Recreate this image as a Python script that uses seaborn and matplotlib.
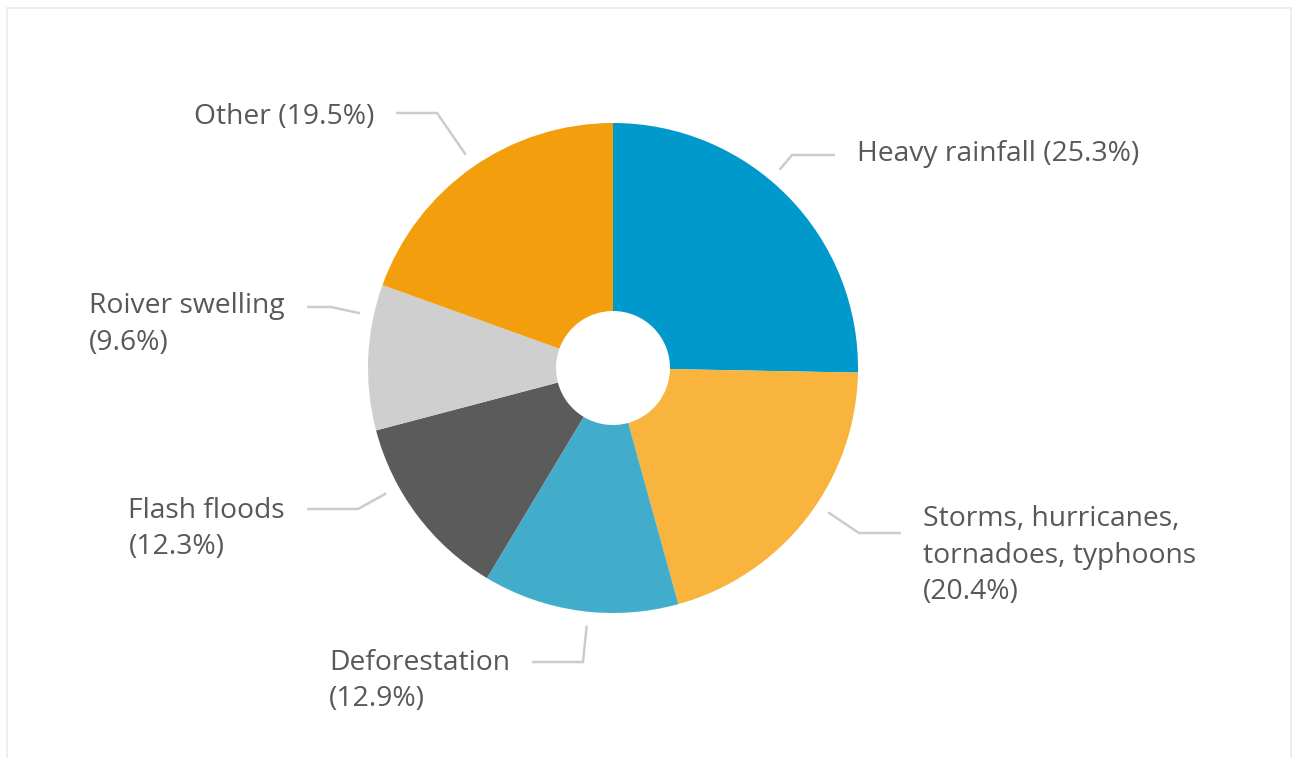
import numpy as np
import matplotlib
matplotlib.use("Agg")
import matplotlib.pyplot as plt
import seaborn as sns

# Causes of flooding, share of events (%)
labels = [
    "Heavy rainfall",
    "Storms, hurricanes,\ntornadoes, typhoons",
    "Deforestation",
    "Flash floods",
    "Roiver swelling",
    "Other",
]
shares = [25.3, 20.4, 12.9, 12.3, 9.6, 19.5]
# wrap the percentage onto its own line for these labels
pct_on_new_line = [False, True, True, True, True, False]
colors = ["#0099CC", "#F8B43D", "#42ADCB", "#5B5B5B", "#CFCFCF", "#F39E0C"]

# label layout: leader-line elbow offsets from the pie centre (px, y up),
# length of the horizontal leg, and a small vertical nudge for the text
elbow_offsets = [(179, 213), (246, -165), (-30, -294), (-255, -141), (-282, 61), (-176, 255)]
leg_lengths = [43, 42, 51, 51, 24, 41]
text_nudge = [4, 16, 2, 1, 3, -2]

sns.set_theme(style="white")
plt.rcParams["font.family"] = ["Open Sans", "DejaVu Sans"]

W, H = 1292, 758
fig = plt.figure(figsize=(W / 100, H / 100), dpi=100)
ax = fig.add_axes([0, 0, 1, 1])

cx, cy = 613, H - 368
R = 245
hole = 57

palette = sns.color_palette(colors)
wedges, _ = ax.pie(
    shares,
    colors=palette,
    startangle=90,
    counterclock=False,
    radius=R,
    center=(cx, cy),
    wedgeprops=dict(width=R - hole, linewidth=0),
)

ax.set_xlim(0, W)
ax.set_ylim(0, H)
ax.set_aspect("equal")
ax.axis("off")

# leader lines and labels
text_color = "#585858"
line_color = "#CCCCCC"
for lab, val, nl, (ex, ey), leg, nud in zip(
        labels, shares, pct_on_new_line, elbow_offsets, leg_lengths, text_nudge):
    d = np.hypot(ex, ey)
    x0, y0 = cx + ex / d * (R + 14), cy + ey / d * (R + 14)
    x1, y1 = cx + ex, cy + ey
    side = 1 if ex > 0 else -1
    x2 = x1 + side * leg
    ax.plot([x0, x1, x2], [y0, y1, y1], color=line_color, lw=1.8,
            solid_capstyle="butt", solid_joinstyle="miter")
    txt = f"{lab}\n({val:.1f}%)" if nl else f"{lab} ({val:.1f}%)"
    ax.text(x2 + side * 22, y1 + nud + 11.5, txt,
            ha="left" if side > 0 else "right", va="top",
            multialignment="left", fontsize=20.3, color=text_color,
            linespacing=1.4)

# light frame around the panel
frame = dict(color="#EBEBEB", lw=1.2)
ax.plot([6.5, 6.5], [-5, H - 7.5], **frame)
ax.plot([6.5, W - 1.5], [H - 7.5, H - 7.5], **frame)
ax.plot([W - 1.5, W - 1.5], [-5, H - 7.5], **frame)

fig.savefig("out.png", dpi=100, facecolor="white")
